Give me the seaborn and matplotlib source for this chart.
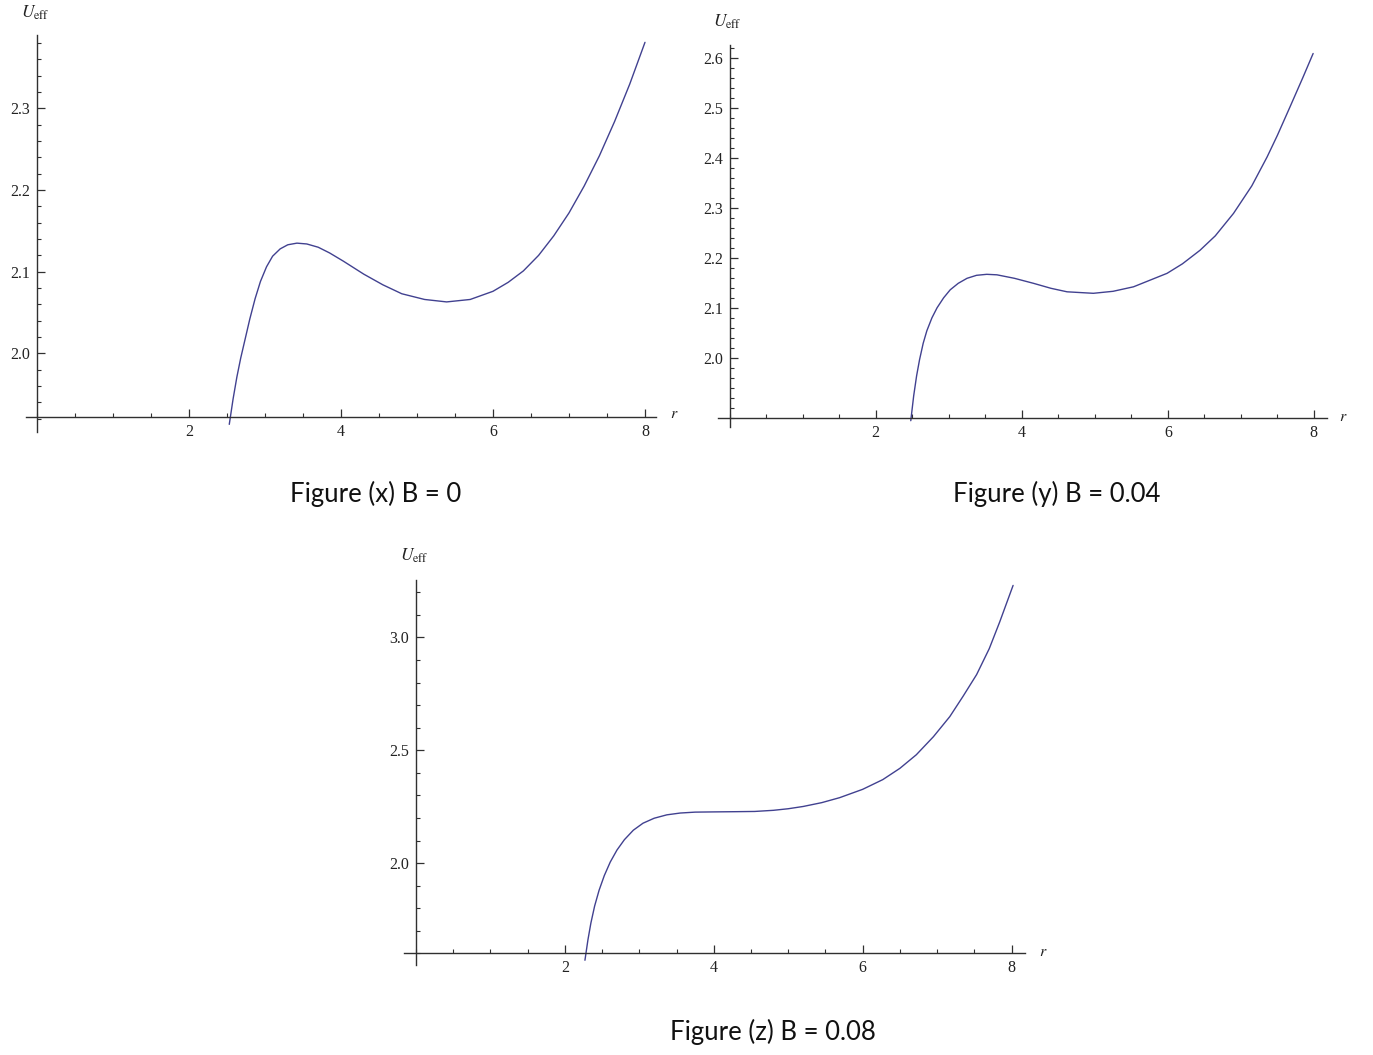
import matplotlib
matplotlib.use("Agg")
import matplotlib.pyplot as plt
import seaborn as sns
import pandas as pd
from matplotlib.ticker import MultipleLocator, FixedLocator, FixedFormatter

# ---- data ----
r_x = [2.53, 2.58, 2.63, 2.68, 2.74, 2.80, 2.87, 2.94, 3.02, 3.10, 3.20, 3.30, 3.42,
       3.55, 3.70, 3.85, 4.03, 4.30, 4.55, 4.80, 5.10, 5.39, 5.70, 6.00, 6.20, 6.40,
       6.60, 6.80, 7.00, 7.20, 7.40, 7.60, 7.80, 8.00]
u_x = [1.913, 1.944, 1.971, 1.994, 2.018, 2.042, 2.067, 2.088, 2.106, 2.119, 2.128, 2.133, 2.135,
       2.134, 2.130, 2.123, 2.113, 2.097, 2.084, 2.073, 2.066, 2.063, 2.066, 2.076, 2.087, 2.101,
       2.120, 2.144, 2.172, 2.205, 2.242, 2.284, 2.330, 2.381]

r_y = [2.48, 2.52, 2.56, 2.60, 2.65, 2.70, 2.77, 2.84, 2.93, 3.02, 3.13, 3.25, 3.38, 3.52, 3.66,
       3.90, 4.16, 4.40, 4.62, 4.98, 5.25, 5.53, 5.99, 6.20, 6.44, 6.65, 6.90, 7.15, 7.36,
       7.50, 7.67, 7.85, 7.99]
u_y = [1.875, 1.925, 1.965, 1.997, 2.030, 2.055, 2.081, 2.101, 2.121, 2.137, 2.150, 2.160, 2.166, 2.168, 2.167,
       2.160, 2.150, 2.140, 2.133, 2.130, 2.134, 2.143, 2.170, 2.189, 2.216, 2.245, 2.290, 2.345, 2.403,
       2.446, 2.502, 2.562, 2.610]

r_z = [2.27, 2.31, 2.35, 2.40, 2.46, 2.53, 2.61, 2.70, 2.80, 2.92, 3.05, 3.20, 3.37, 3.55, 3.75,
       4.00, 4.30, 4.55, 4.80, 5.00, 5.20, 5.45, 5.69, 6.00, 6.27, 6.50, 6.72, 6.95, 7.17, 7.35,
       7.53, 7.70, 7.84, 8.02]
u_z = [1.570, 1.660, 1.735, 1.810, 1.880, 1.945, 2.005, 2.058, 2.104, 2.146, 2.177, 2.199, 2.214, 2.222, 2.226,
       2.227, 2.228, 2.229, 2.234, 2.241, 2.251, 2.268, 2.290, 2.327, 2.370, 2.420, 2.480, 2.560, 2.649, 2.740,
       2.835, 2.950, 3.068, 3.230]

x_major = [2, 4, 6, 8]
yt_x = [2.0, 2.1, 2.2, 2.3]
yt_y = [2.0, 2.1, 2.2, 2.3, 2.4, 2.5, 2.6]
yt_z = [2.0, 2.5, 3.0]
captions = ["Figure (x) B = 0", "Figure (y) B = 0.04", "Figure (z) B = 0.08"]

sns.set_style("white")
plt.rcParams["font.family"] = ["Liberation Serif", "DejaVu Serif"]
plt.rcParams["mathtext.fontset"] = "stix"

W, H = 1373, 1055
fig = plt.figure(figsize=(W / 100, H / 100), dpi=100)
fig.patch.set_facecolor("white")

LINE = "#414190"
AX = "#303030"


def panel(box, xlim, ylim, origin, r, u, yticks, yminor, ulab, rlab):
    l, t, rr, b = box
    ax = fig.add_axes([l / W, 1 - b / H, (rr - l) / W, (b - t) / H])
    ax.set_facecolor("white")
    df = pd.DataFrame({"r": r, "U": u})
    sns.lineplot(data=df, x="r", y="U", ax=ax, color=LINE, linewidth=1.0,
                 estimator=None, sort=False)
    ax.set_xlim(*xlim)
    ax.set_ylim(*ylim)
    ax.set_xlabel("")
    ax.set_ylabel("")
    for s in ["top", "right"]:
        ax.spines[s].set_visible(False)
    ax.spines["left"].set_position(("data", 0))
    ax.spines["bottom"].set_position(("data", origin))
    for s in ["left", "bottom"]:
        ax.spines[s].set_color(AX)
        ax.spines[s].set_linewidth(1.0)
    ax.xaxis.set_major_locator(FixedLocator(x_major))
    ax.xaxis.set_major_formatter(FixedFormatter([str(v) for v in x_major]))
    ax.xaxis.set_minor_locator(MultipleLocator(0.5))
    ax.yaxis.set_major_locator(FixedLocator(yticks))
    ax.yaxis.set_major_formatter(FixedFormatter(["%.1f" % v for v in yticks]))
    ax.yaxis.set_minor_locator(MultipleLocator(yminor))
    ax.tick_params(which="both", bottom=True, left=True, top=False, right=False)
    ax.tick_params(which="major", direction="in", length=6, width=0.9, color=AX,
                   labelsize=11.5, labelcolor="#222222", pad=5)
    ax.tick_params(which="minor", direction="in", length=3, width=0.8, color=AX)
    fig.text(ulab[0] / W, 1 - ulab[1] / H, r"$U_{\mathrm{eff}}$", fontsize=12.5,
             ha="center", va="center", color="#222222")
    fig.text(rlab[0] / W, 1 - rlab[1] / H, r"$r$", fontsize=11.5,
             ha="center", va="center", color="#222222")
    return ax


panel((25.6, 35, 656, 431.7), (-0.15, 8.145), (1.904, 2.39), 1.922,
      r_x, u_x, yt_x, 0.02, (35, 13), (674, 414))
panel((718, 45, 1327, 426.7), (-0.16, 8.18), (1.863, 2.627), 1.881,
      r_y, u_y, yt_y, 0.02, (727, 22), (1343, 417))
panel((404, 580, 1025, 965), (-0.16, 8.18), (1.549, 3.254), 1.602,
      r_z, u_z, yt_z, 0.1, (414, 556), (1043, 952))

cap_pos = [(376, 494), (1057, 494), (773, 1032)]
for txt, (cx, cy) in zip(captions, cap_pos):
    fig.text(cx / W, 1 - cy / H, txt, fontsize=18.5, family=["Lato", "DejaVu Sans"],
             ha="center", va="center", color="#111111")

fig.savefig("out.png", dpi=100, facecolor="white")
